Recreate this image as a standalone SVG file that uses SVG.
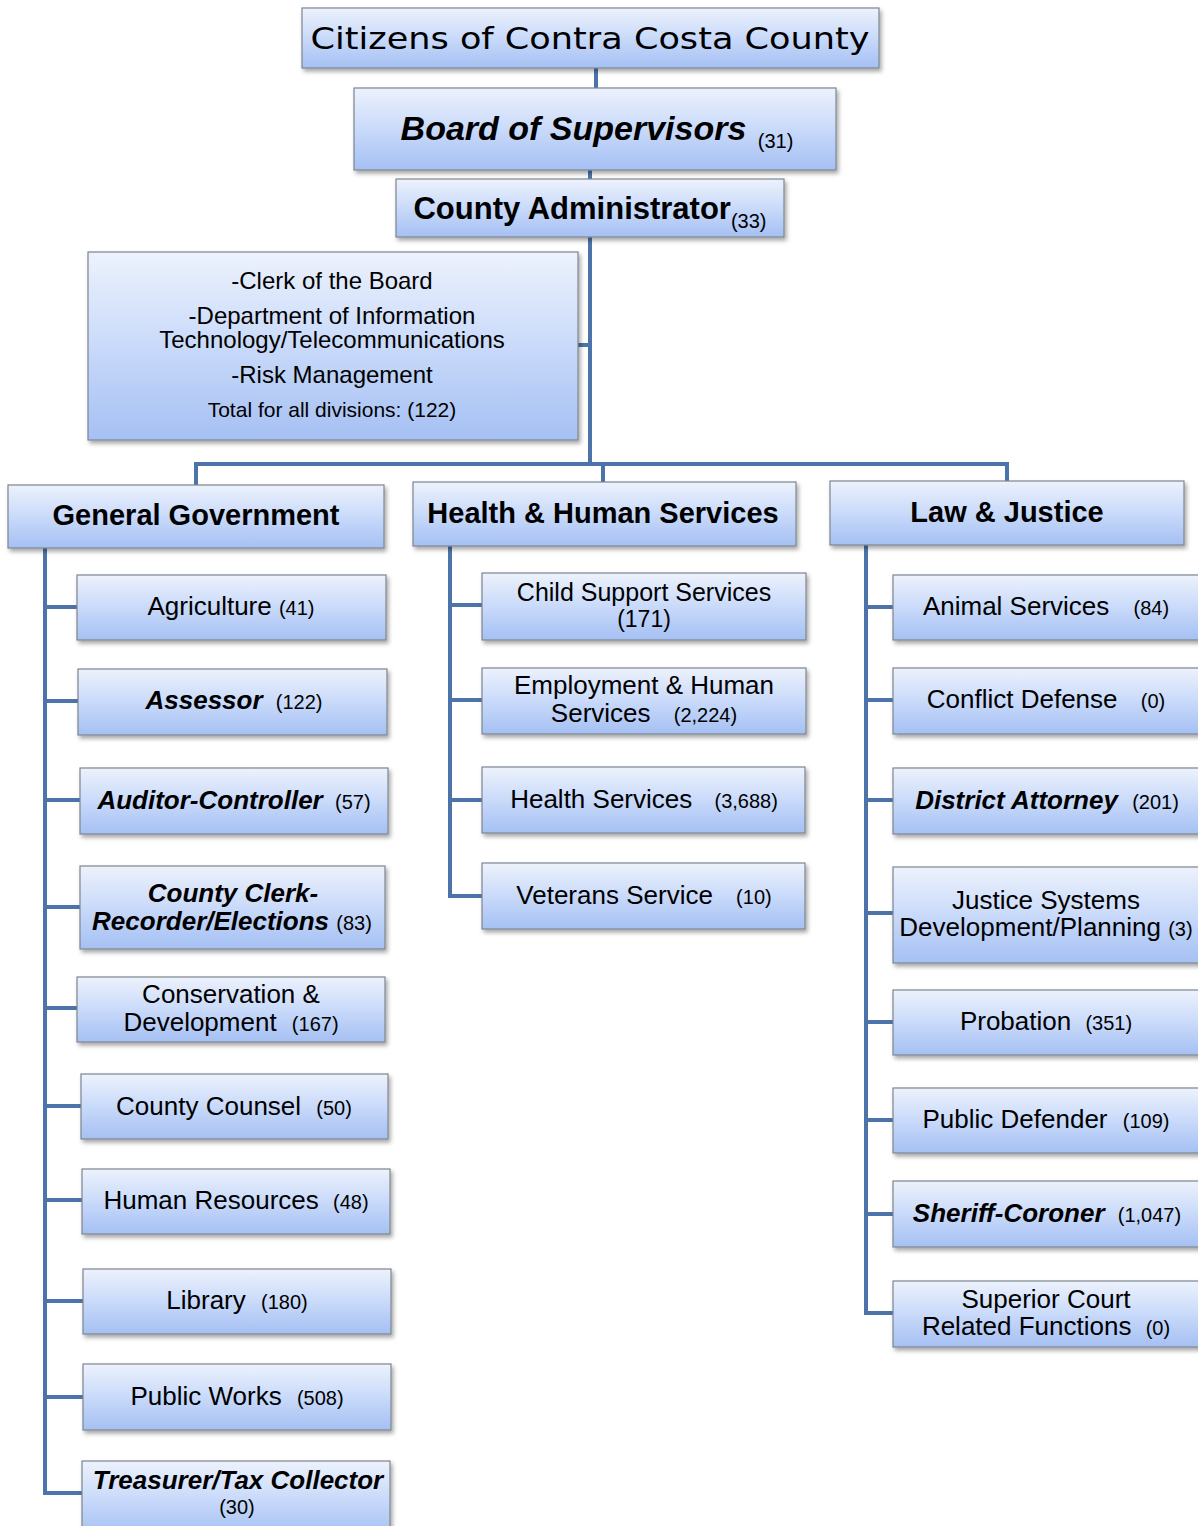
<svg xmlns="http://www.w3.org/2000/svg" width="1198" height="1526" viewBox="0 0 1198 1526">
<defs>
<linearGradient id="g" x1="0" y1="0" x2="0" y2="1">
<stop offset="0" stop-color="#edf2fc"/>
<stop offset="0.5" stop-color="#c9dafa"/>
<stop offset="1" stop-color="#a5c0f3"/>
</linearGradient>
<filter id="sh" x="-5%" y="-10%" width="115%" height="130%">
<feDropShadow dx="2" dy="3" stdDeviation="2" flood-color="#000" flood-opacity="0.35"/>
</filter>
</defs>
<style>
.box{fill:url(#g);stroke:#7d8590;stroke-width:1.2;filter:url(#sh)}
.c{fill:none;stroke:#4d74aa;stroke-width:4}
text{font-family:"Liberation Sans",Arial,sans-serif;fill:#000;text-anchor:middle}
.t{font-size:26px}
.h{font-size:29px;font-weight:bold}
.bi{font-weight:bold;font-style:italic}
.n{font-family:"Liberation Sans",sans-serif;font-size:20px;font-weight:normal;font-style:normal}
</style>
<rect width="1198" height="1526" fill="#fff"/>
<g id="connectors">
<path class="c" d="M596 68V88"/>
<path class="c" d="M590 170V179"/>
<path class="c" d="M590 237V464M578 345H590"/>
<path class="c" d="M196 485V464H1007V481M603 464V482"/>
<path class="c" d="M45 548V1493H82M45 607H77M45 701H78M45 800H80M45 907H80M45 1008H77M45 1106H81M45 1200H82M45 1301H83M45 1397H83"/>
<path class="c" d="M450 546V896H482M450 605H482M450 700H482M450 800H482"/>
<path class="c" d="M866 545V1313H893M866 607H893M866 700H893M866 800H893M866 913H893M866 1022H893M866 1120H893M866 1214H893"/>
</g>
<g id="citizens"><rect class="box" x="302" y="8" width="577" height="60"/>
<text x="590" y="49" style="font-family:'DejaVu Sans',sans-serif;font-size:31px" textLength="559" lengthAdjust="spacingAndGlyphs">Citizens of Contra Costa County</text></g>
<g id="board"><rect class="box" x="354" y="88" width="482" height="82"/>
<text x="597" y="140" class="bi" style="font-size:34px">Board of Supervisors <tspan class="n" dy="8" dx="2">(31)</tspan></text></g>
<g id="admin"><rect class="box" x="396" y="179" width="388" height="58"/>
<text x="590" y="219" style="font-size:31px;font-weight:bold">County Administrator<tspan class="n" dy="9">(33)</tspan></text></g>
<g id="clerk"><rect class="box" x="88" y="252" width="490" height="188"/>
<text x="332" y="289" style="font-size:24px">-Clerk of the Board</text>
<text x="332" y="324" style="font-size:24px">-Department of Information</text>
<text x="332" y="348" style="font-size:24px">Technology/Telecommunications</text>
<text x="332" y="383" style="font-size:24px">-Risk Management</text>
<text x="332" y="417" class="n" style="font-size:21px">Total for all divisions: (122)</text></g>

<g id="gg"><rect class="box" x="8" y="485" width="376" height="63"/><text x="196" y="525" class="h">General Government</text></g>
<g id="hhs"><rect class="box" x="413" y="482" width="383" height="64"/><text x="603" y="523" class="h">Health &amp; Human Services</text></g>
<g id="lj"><rect class="box" x="830" y="481" width="354" height="64"/><text x="1007" y="522" class="h">Law &amp; Justice</text></g>

<g id="agriculture"><rect class="box" x="77" y="575" width="309" height="65"/><text x="231" y="615" class="t">Agriculture <tspan class="n">(41)</tspan></text></g>
<g id="assessor"><rect class="box" x="78" y="669" width="309" height="66"/><text x="234" y="709" class="t"><tspan class="bi">Assessor</tspan> <tspan class="n" dx="6">(122)</tspan></text></g>
<g id="auditor"><rect class="box" x="80" y="768" width="308" height="66"/><text x="234" y="809" class="t"><tspan class="bi">Auditor-Controller</tspan> <tspan class="n" dx="5">(57)</tspan></text></g>
<g id="countyclerk"><rect class="box" x="80" y="866" width="305" height="83"/><text x="233" y="902" class="t bi">County Clerk-</text><text x="232" y="930" class="t"><tspan class="bi">Recorder/Elections</tspan> <tspan class="n">(83)</tspan></text></g>
<g id="conservation"><rect class="box" x="77" y="977" width="308" height="65"/><text x="231" y="1003" class="t">Conservation &amp;</text><text x="231" y="1031" class="t">Development <tspan class="n" dx="8">(167)</tspan></text></g>
<g id="counsel"><rect class="box" x="81" y="1074" width="307" height="65"/><text x="234" y="1115" class="t">County Counsel <tspan class="n" dx="8">(50)</tspan></text></g>
<g id="hr"><rect class="box" x="82" y="1169" width="308" height="65"/><text x="236" y="1209" class="t">Human Resources <tspan class="n" dx="7">(48)</tspan></text></g>
<g id="library"><rect class="box" x="83" y="1269" width="308" height="65"/><text x="237" y="1309" class="t">Library <tspan class="n" dx="8">(180)</tspan></text></g>
<g id="publicworks"><rect class="box" x="83" y="1364" width="308" height="66"/><text x="237" y="1405" class="t">Public Works <tspan class="n" dx="8">(508)</tspan></text></g>
<g id="treasurer"><rect class="box" x="82" y="1461" width="308" height="75"/><text x="238" y="1489" class="t bi">Treasurer/Tax Collector</text><text x="237" y="1514" class="n">(30)</text></g>

<g id="childsupport"><rect class="box" x="482" y="573" width="324" height="67"/><text x="644" y="601" class="t" style="font-size:25px">Child Support Services</text><text x="644" y="627" style="font-size:23px">(171)</text></g>
<g id="employment"><rect class="box" x="482" y="668" width="324" height="66"/><text x="644" y="694" class="t">Employment &amp; Human</text><text x="644" y="722" class="t">Services <tspan class="n" dx="16">(2,224)</tspan></text></g>
<g id="health"><rect class="box" x="482" y="767" width="323" height="66"/><text x="644" y="808" class="t">Health Services <tspan class="n" dx="15">(3,688)</tspan></text></g>
<g id="veterans"><rect class="box" x="482" y="863" width="323" height="66"/><text x="644" y="904" class="t">Veterans Service <tspan class="n" dx="16">(10)</tspan></text></g>

<g id="animal"><rect class="box" x="893" y="575" width="320" height="65"/><text x="1046" y="615" class="t">Animal Services <tspan class="n" dx="17">(84)</tspan></text></g>
<g id="conflict"><rect class="box" x="893" y="668" width="320" height="66"/><text x="1046" y="708" class="t">Conflict Defense <tspan class="n" dx="16">(0)</tspan></text></g>
<g id="da"><rect class="box" x="893" y="768" width="320" height="66"/><text x="1047" y="809" class="t"><tspan class="bi">District Attorney</tspan> <tspan class="n" dx="7">(201)</tspan></text></g>
<g id="justice"><rect class="box" x="893" y="867" width="320" height="96"/><text x="1046" y="909" class="t">Justice Systems</text><text x="1046" y="936" class="t">Development/Planning <tspan class="n">(3)</tspan></text></g>
<g id="probation"><rect class="box" x="893" y="990" width="320" height="65"/><text x="1046" y="1030" class="t">Probation <tspan class="n" dx="7">(351)</tspan></text></g>
<g id="publicdefender"><rect class="box" x="893" y="1088" width="320" height="65"/><text x="1046" y="1128" class="t">Public Defender <tspan class="n" dx="8">(109)</tspan></text></g>
<g id="sheriff"><rect class="box" x="893" y="1181" width="320" height="66"/><text x="1047" y="1222" class="t"><tspan class="bi">Sheriff-Coroner</tspan> <tspan class="n" dx="6">(1,047)</tspan></text></g>
<g id="superior"><rect class="box" x="893" y="1281" width="320" height="66"/><text x="1046" y="1308" class="t">Superior Court</text><text x="1046" y="1335" class="t">Related Functions <tspan class="n" dx="7">(0)</tspan></text></g>
</svg>
